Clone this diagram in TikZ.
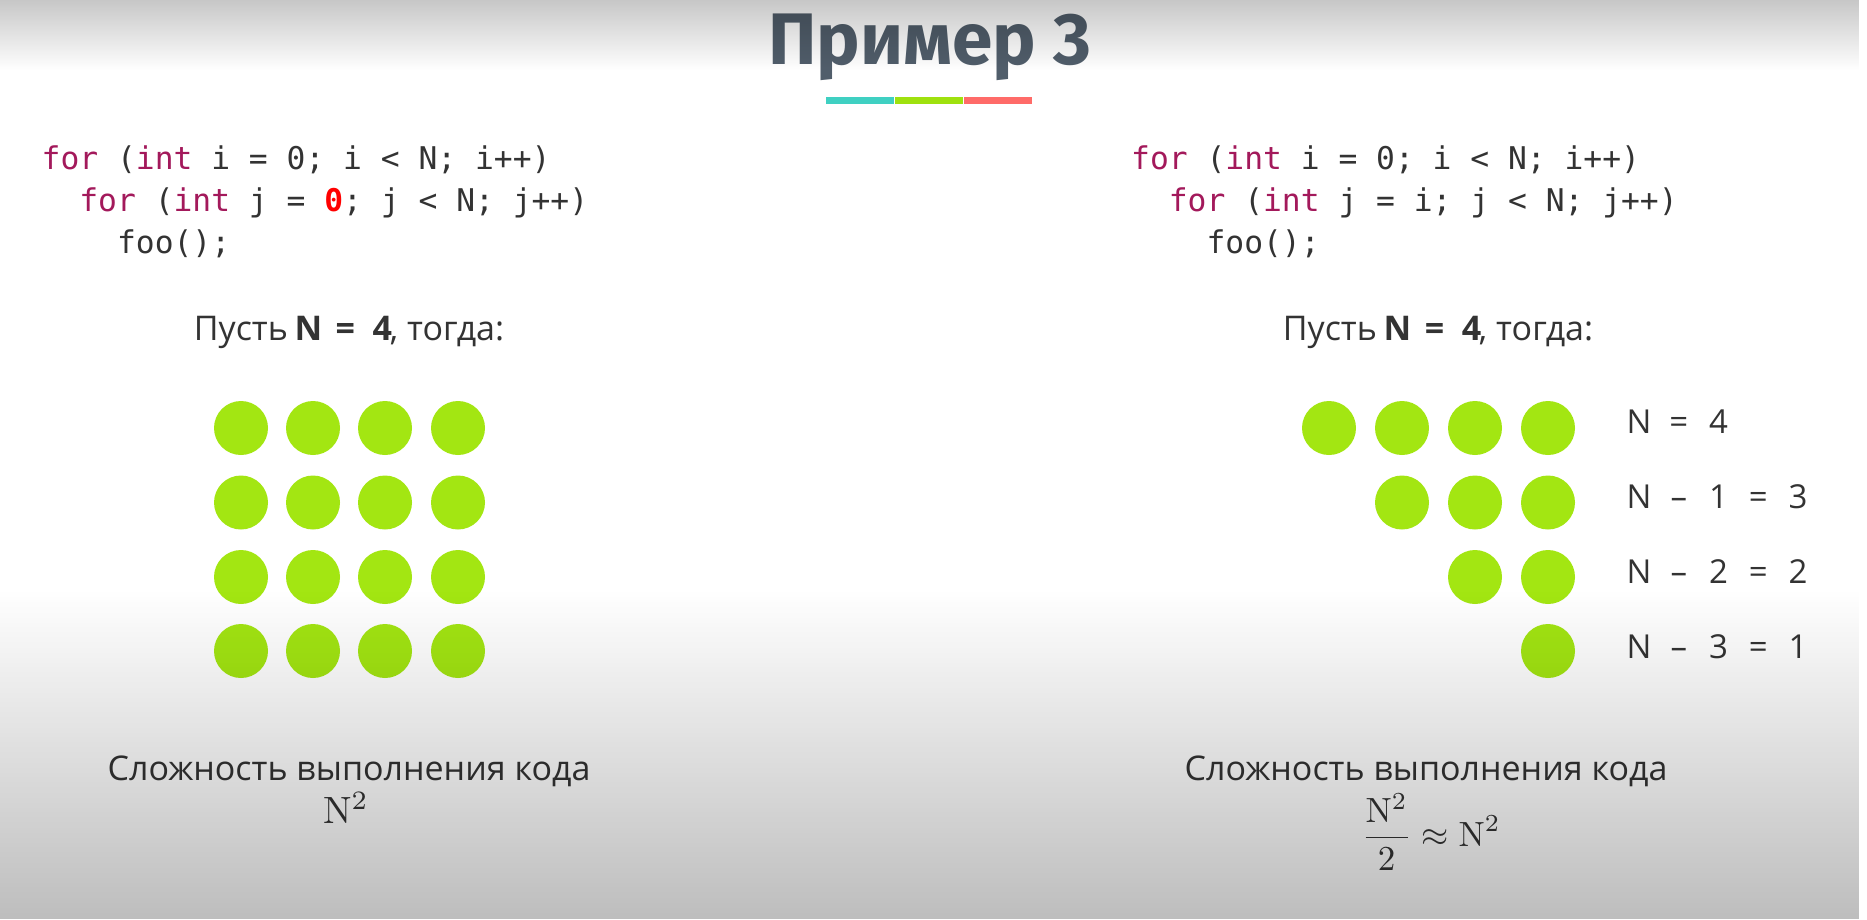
\documentclass[tikz,border=0pt]{standalone}
\usepackage{graphicx}
\usepackage[no-math]{fontspec}
\setmainfont{Open Sans}
\newfontfamily\titlefont{Fira Sans}
\setmonofont{DejaVu Sans Mono}
\usetikzlibrary{fadings}

\definecolor{titlegray}{HTML}{515E6B}
\definecolor{textgray}{HTML}{333333}
\definecolor{kwcolor}{HTML}{A3195B}
\definecolor{dotgreen}{HTML}{A3E612}
\definecolor{barteal}{HTML}{3FD0C2}
\definecolor{bargreen}{HTML}{9FE10E}
\definecolor{barred}{HTML}{FF6B68}

\tikzfading[name=shadedown, top color=transparent!100, bottom color=transparent!0]
\tikzfading[name=shadeup, top color=transparent!0, bottom color=transparent!100]

% keywords in the code listing
\newcommand{\kw}[1]{\textcolor{kwcolor}{#1}}
% characters set on a fixed pitch
\newcommand{\pc}[1]{\makebox[39.75pt]{#1}}
% math set at 10pt and enlarged
\newcommand{\bigmath}[2][3.8]{\scalebox{#1}{\fontsize{10}{12}\selectfont$#2$}}

\tikzset{
  dot/.style={circle, fill=dotgreen, draw=none, minimum size=54pt, inner sep=0pt},
  code/.style={anchor=base west, font=\ttfamily\fontsize{31.3}{42}\selectfont, text=textgray, inner sep=0pt, align=left},
  body/.style={font=\fontsize{34}{40}\selectfont, text=textgray, inner sep=0pt},
  eqlabel/.style={anchor=base west, font=\fontsize{33}{40}\selectfont, text=textgray, inner sep=0pt},
  formula/.style={text=textgray, inner sep=0pt},
  bar/.style={draw=none, minimum height=7pt, minimum width=68pt, inner sep=0pt}
}

\begin{document}
\begin{tikzpicture}[x=1pt, y=-1pt]
  \useasboundingbox (0,0) rectangle (1867,919);
  \fill[white] (0,0) rectangle (1867,919);

  % heading
  \node[anchor=base, font=\titlefont\bfseries\fontsize{73}{82}\selectfont, text=titlegray, inner sep=0pt]
    (title) at (930,64) {Пример 3};
  \node[bar, fill=barteal]  (barA) at (860,100.5) {};
  \node[bar, fill=bargreen] (barB) at (929,100.5) {};
  \node[bar, fill=barred]   (barC) at (998,100.5) {};

  % left listing
  \node[code] (codeL1) at (41.5,169) {\kw{for} (\kw{int} i = 0; i < N; i++)};
  \node[code] (codeL2) at (41.5,211) {\ \ \kw{for} (\kw{int} j = \textcolor{red}{\textbf{0}}; j < N; j++)};
  \node[code] (codeL3) at (41.5,253) {\ \ \ \ foo();};

  % right listing
  \node[code] (codeR1) at (1131,169) {\kw{for} (\kw{int} i = 0; i < N; i++)};
  \node[code] (codeR2) at (1131,211) {\ \ \kw{for} (\kw{int} j = i; j < N; j++)};
  \node[code] (codeR3) at (1131,253) {\ \ \ \ foo();};

  % "let N = 4"
  \node[body, anchor=base] (letL) at (349,340)
    {Пусть\hspace{2pt}\makebox[37pt]{\textbf{N}}\makebox[37pt]{\textbf{=}}\makebox[37pt]{\textbf{4}}\hspace{-11pt}, тогда:};
  \node[body, anchor=base] (letR) at (1438,340)
    {Пусть\hspace{2pt}\makebox[37pt]{\textbf{N}}\makebox[37pt]{\textbf{=}}\makebox[37pt]{\textbf{4}}\hspace{-11pt}, тогда:};

  % full square of calls
  \foreach \r/\y in {1/428,2/502.5,3/577,4/651}{
    \foreach \c/\x in {1/241,2/313,3/385,4/458}{
      \node[dot] (sq\r\c) at (\x,\y) {};
    }
  }

  % triangle of calls
  \foreach \r/\y in {1/428,2/502.5,3/577,4/651}{
    \foreach \c/\x in {1/1329,2/1402,3/1475,4/1548}{
      \ifnum\c<\r\relax\else
        \node[dot] (tr\r\c) at (\x,\y) {};
      \fi
    }
  }

  % row counts
  \node[eqlabel] (cnt1) at (1619,433) {\pc{N}\pc{=}\pc{4}};
  \node[eqlabel] (cnt2) at (1619,508) {\pc{N}\pc{–}\pc{1}\pc{=}\pc{3}};
  \node[eqlabel] (cnt3) at (1619,583) {\pc{N}\pc{–}\pc{2}\pc{=}\pc{2}};
  \node[eqlabel] (cnt4) at (1619,658) {\pc{N}\pc{–}\pc{3}\pc{=}\pc{1}};

  % complexity captions
  \node[body, anchor=base] (cxL) at (349,780) {Сложность выполнения кода};
  \node[body, anchor=base] (cxR) at (1426,780) {Сложность выполнения кода};
  \node[formula, anchor=base] (fL) at (346,823) {\bigmath{\mathrm{N}^2}};
  \node[formula, anchor=base] (fR) at (1431,846) {\bigmath[3.5]{\displaystyle\frac{\mathrm{N}^2}{2}\approx\mathrm{N}^2}};

  % slide shading at the top and bottom edges
  \fill[black, opacity=0.22, path fading=shadeup] (0,0) rectangle (1867,70);
  \fill[black, opacity=0.26, path fading=shadedown] (0,590) rectangle (1867,919);
\end{tikzpicture}
\end{document}
